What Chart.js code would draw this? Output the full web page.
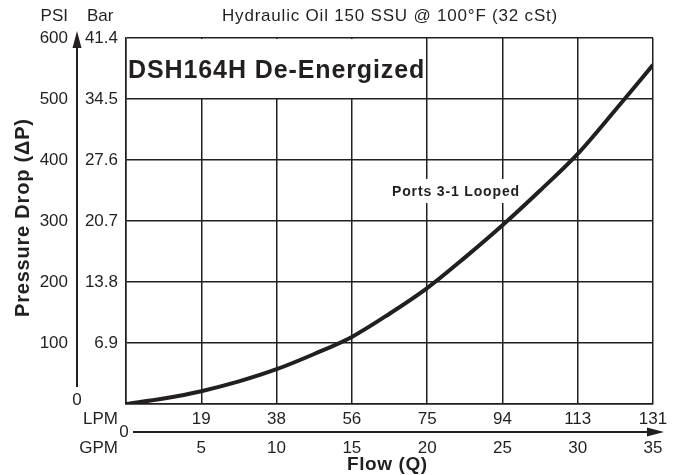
<!DOCTYPE html>
<html>
<head>
<meta charset="utf-8">
<script src="https://cdn.jsdelivr.net/npm/chart.js@4.4.1/dist/chart.umd.min.js"></script>
<style>
  html, body { margin: 0; padding: 0; background: #fff; }
  #wrap { width: 681px; height: 475px; }
</style>
</head>
<body>
<div id="wrap"><canvas id="chart" width="681" height="475"></canvas></div>
<script>
  /* ---- data ---- */
  var gpm = [0, 2.5, 5, 7.5, 10, 12.5, 15, 17.5, 20, 22.5, 25, 27.5, 30, 32.5, 35];
  var psi = [0, 9, 21, 37, 57, 82, 110, 148, 190, 240, 293, 350, 410, 482, 556];

  var psiTicks = [0, 100, 200, 300, 400, 500, 600];
  var barTicks = ["", "6.9", "13.8", "20.7", "27.6", "34.5", "41.4"];
  var gpmTicks = [5, 10, 15, 20, 25, 30, 35];
  var lpmTicks = ["19", "38", "56", "75", "94", "113", "131"];

  var INK = "#231f20";
  var FONT = "'Liberation Sans', Arial, Helvetica, sans-serif";

  function arrowHead(ctx, x, y, dir) {
    ctx.beginPath();
    if (dir === "up") {
      ctx.moveTo(x, y); ctx.lineTo(x - 4.5, y + 17); ctx.lineTo(x + 4.5, y + 17);
    } else {
      ctx.moveTo(x, y); ctx.lineTo(x - 17, y - 4.5); ctx.lineTo(x - 17, y + 4.5);
    }
    ctx.closePath();
    ctx.fill();
  }

  // text with extra tracking, left edge at x
  function spaced(ctx, text, x, y, gap) {
    ctx.letterSpacing = gap + "px";
    ctx.fillText(text, x, y);
    ctx.letterSpacing = "0px";
  }

  var boxes = {
    id: "boxes",
    beforeDatasetsDraw: function (chart) {
      var ctx = chart.ctx;
      var xs = chart.scales.x, ys = chart.scales.y;
      ctx.save();
      ctx.fillStyle = "#fff";
      // label boxes hide the grid behind the text
      ctx.fillRect(xs.left + 1, ys.top + 1, 297, ys.getPixelForValue(500) - ys.top - 2);
      ctx.fillRect(390, 179, 133, 24);
      ctx.restore();
    },
    afterDraw: function (chart) {
      var ctx = chart.ctx;
      var xs = chart.scales.x, ys = chart.scales.y;
      ctx.save();
      ctx.fillStyle = INK;
      ctx.strokeStyle = INK;

      // pressure axis labels
      ctx.font = "17px " + FONT;
      ctx.textBaseline = "middle";
      psiTicks.forEach(function (v, i) {
        var y = ys.getPixelForValue(v);
        if (v === 0) {
          ctx.textAlign = "center";
          ctx.fillText("0", 77, y - 4);
          return;
        }
        ctx.textAlign = "right";
        ctx.fillText(String(v), 68, y);
        ctx.fillText(barTicks[i], 118, y);
      });
      ctx.textAlign = "right";
      ctx.fillText("PSI", 68, 16);
      ctx.textAlign = "left";
      ctx.fillText("Bar", 87, 16);

      // vertical arrow
      ctx.lineWidth = 2;
      ctx.beginPath();
      ctx.moveTo(77, 387);
      ctx.lineTo(77, 45);
      ctx.stroke();
      arrowHead(ctx, 77, 31, "up");

      // flow axis labels
      ctx.textAlign = "center";
      gpmTicks.forEach(function (v, i) {
        var x = xs.getPixelForValue(v);
        ctx.fillText(lpmTicks[i], x, 419);
        ctx.fillText(String(v), x, 448);
      });
      ctx.textAlign = "right";
      ctx.fillText("LPM", 118, 419);
      ctx.fillText("GPM", 118, 448);
      ctx.textAlign = "center";
      ctx.fillText("0", 124, 432);

      // horizontal arrow
      ctx.beginPath();
      ctx.moveTo(133, 432);
      ctx.lineTo(650, 432);
      ctx.stroke();
      arrowHead(ctx, 664, 432, "right");

      // titles
      ctx.textAlign = "left";
      spaced(ctx, "Hydraulic Oil 150 SSU @ 100\u00B0F (32 cSt)", 222, 16, 0.8);

      ctx.font = "bold 19px " + FONT;
      spaced(ctx, "Flow (Q)", 347, 465, 0.6);

      ctx.save();
      ctx.translate(23, 317);
      ctx.rotate(-Math.PI / 2);
      ctx.font = "bold 20px " + FONT;
      spaced(ctx, "Pressure Drop (\u0394P)", 0, 0, 0.8);
      ctx.restore();

      ctx.font = "bold 25px " + FONT;
      spaced(ctx, "DSH164H De-Energized", 128, 71, 0.9);

      ctx.font = "bold 14px " + FONT;
      spaced(ctx, "Ports 3-1 Looped", 392, 192, 0.85);

      ctx.restore();
    }
  };

  new Chart(document.getElementById("chart"), {
    type: "scatter",
    data: {
      datasets: [{
        data: gpm.map(function (g, i) { return { x: g, y: psi[i] }; }),
        showLine: true,
        borderColor: INK,
        borderWidth: 4,
        pointRadius: 0,
        cubicInterpolationMode: "monotone",
      }],
    },
    options: {
      responsive: false,
      animation: false,
      layout: { padding: { left: 126, right: 28, top: 38, bottom: 71 } },
      plugins: { legend: { display: false }, tooltip: { enabled: false } },
      scales: {
        x: {
          type: "linear", min: 0, max: 35,
          ticks: { display: false, stepSize: 5 },
          grid: { color: INK, lineWidth: 1.5, drawTicks: false },
          border: { color: INK, width: 1.5 },
        },
        y: {
          min: 0, max: 600,
          ticks: { display: false, stepSize: 100 },
          grid: { color: INK, lineWidth: 1.5, drawTicks: false },
          border: { color: INK, width: 1.5 },
        },
      },
    },
    plugins: [boxes],
  });
</script>
</body>
</html>
